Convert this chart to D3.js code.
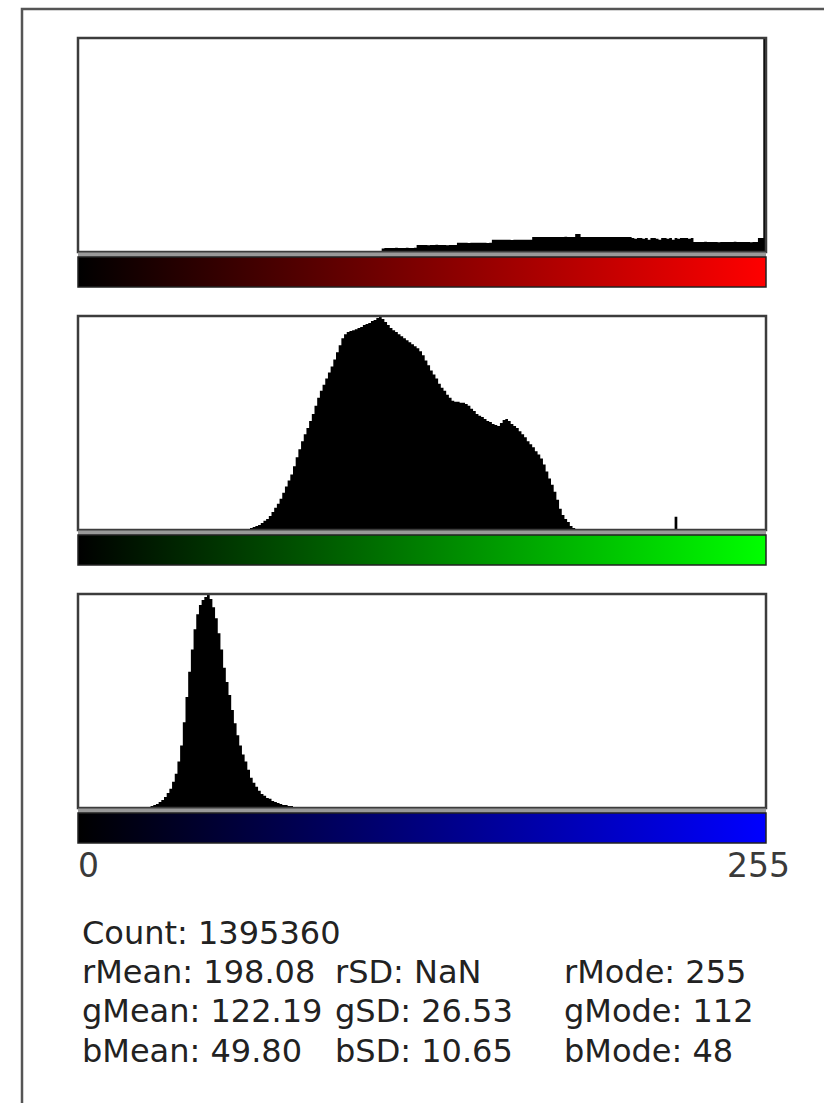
<!DOCTYPE html>
<html>
<head>
<meta charset="utf-8">
<script src="https://cdn.jsdelivr.net/npm/d3@7"></script>
<style>
  html, body { margin: 0; padding: 0; background: #fff; overflow: hidden; }
  text { font-family: "DejaVu Sans", "Lucida Grande", sans-serif; }
</style>
</head>
<body>
<svg id="chart" width="824" height="1103"></svg>
<script>
// Per-bin frequencies (percent of each channel's plotted maximum), bins 0..255
const redCounts = [
  0,0,0,0,0,0,0,0,0,0,0,0,0,0,0,0,
  0,0,0,0,0,0,0,0,0,0,0,0,0,0,0,0,
  0,0,0,0,0,0,0,0,0,0,0,0,0,0,0,0,
  0,0,0,0,0,0,0,0,0,0,0,0,0,0,0,0,
  0,0,0,0,0,0,0,0,0,0,0,0,0,0,0,0,
  0,0,0,0,0,0,0,0,0,0,0,0,0,0,0,0,
  0,0,0,0,0,0,0,0,0,0,0,0,0,0,0,0,
  0,1.7,1.9,1.9,1.9,1.9,2.0,1.9,1.9,1.9,2.0,1.9,1.9,2.0,3.3,3.3,
  3.3,3.3,3.2,3.3,3.3,3.4,3.3,3.3,3.3,3.2,3.3,3.3,3.3,4.3,4.3,4.3,
  4.3,4.2,4.3,4.3,4.4,4.3,4.3,4.3,4.2,4.3,5.7,5.7,5.8,5.7,5.7,5.7,
  5.7,5.6,5.7,5.7,5.7,5.8,5.7,5.7,5.7,7.0,7.1,7.1,7.1,7.0,7.1,7.1,
  7.1,7.1,7.0,7.1,7.1,7.2,7.1,7.1,7.1,8.5,8.5,7.1,7.1,7.0,7.1,7.1,
  7.1,7.1,7.1,7.0,7.1,7.1,7.1,7.1,7.0,7.1,7.1,7.1,7.1,7.0,6.6,6.2,
  6.6,6.6,6.2,6.6,5.7,6.6,6.6,6.2,5.7,6.6,6.6,6.2,6.6,5.7,6.6,6.2,
  6.6,6.6,6.6,6.2,6.6,4.7,4.7,4.7,4.7,4.8,4.7,4.7,4.7,4.7,4.6,4.7,
  4.7,4.7,4.7,4.7,4.8,4.7,4.7,4.7,4.7,4.7,4.6,4.7,4.7,6.6,6.6,100
];

const greenCounts = [
  0,0,0,0,0,0,0,0,0,0,0,0,0,0,0,0,
  0,0,0,0,0,0,0,0,0,0,0,0,0,0,0,0,
  0,0,0,0,0,0,0,0,0,0,0,0,0,0,0,0,
  0,0,0,0,0,0,0,0,0,0,0,0,0,0,0.2,0.5,
  0.9,1.4,1.9,2.4,3.3,4.3,5.2,6.6,8.5,10.4,12.3,14.7,17.5,20.4,23.2,26.1,
  29.9,34.1,37.9,41.7,45.0,47.9,51.2,54.5,58.3,62.1,65.4,68.2,71.1,73.9,76.8,80.1,
  83.4,86.7,90.0,91.9,92.9,93.4,93.8,94.3,94.8,95.3,96.2,96.7,97.2,98.1,98.6,99.5,
  100,99.1,97.6,96.2,94.8,93.8,92.9,91.9,91.0,90.0,89.1,88.2,87.2,86.3,85.3,83.9,
  82.0,79.6,77.3,74.9,73.0,71.1,68.7,66.8,65.4,63.5,62.1,60.7,60.2,60.2,59.7,59.7,
  59.2,58.3,56.9,55.9,54.5,53.6,53.1,52.1,51.2,50.7,49.8,49.3,48.8,50.2,51.7,52.1,
  51.2,49.8,48.8,47.9,46.4,45.0,43.6,41.7,40.3,38.9,37.0,35.5,33.6,30.8,27.5,24.2,
  21.3,18.0,14.2,10.0,7.1,5.2,3.8,1.9,0.9,0.5,0,0,0,0,0,0,
  0,0,0,0,0,0,0,0,0,0,0,0,0,0,0,0,
  0,0,0,0,0,0,0,0,0,0,0,0,0,0,6.2,0,
  0,0,0,0,0,0,0,0,0,0,0,0,0,0,0,0,
  0,0,0,0,0,0,0,0,0,0,0,0,0,0,0,0
];

const blueCounts = [
  0,0,0,0,0,0,0,0,0,0,0,0,0,0,0,0,
  0,0,0,0,0,0,0,0,0,0.2,0.5,0.9,1.4,1.9,2.8,3.8,
  5.2,7.1,9.0,12.3,16.1,21.8,29.4,40.3,52.1,64.0,74.4,83.9,91.0,95.3,97.6,99.1,
  100,98.1,94.3,89.1,82.0,74.4,65.9,59.2,53.1,46.0,39.8,34.1,29.4,25.1,21.8,18.0,
  14.2,11.8,10.0,8.1,6.6,5.7,4.7,4.3,3.3,2.8,2.4,1.9,1.4,1.4,0.9,0.9,
  0.5,0.5,0.2,0,0,0,0,0,0,0,0,0,0,0,0,0,
  0,0,0,0,0,0,0,0,0,0,0,0,0,0,0,0,
  0,0,0,0,0,0,0,0,0,0,0,0,0,0,0,0,
  0,0,0,0,0,0,0,0,0,0,0,0,0,0,0,0,
  0,0,0,0,0,0,0,0,0,0,0,0,0,0,0,0,
  0,0,0,0,0,0,0,0,0,0,0,0,0,0,0,0,
  0,0,0,0,0,0,0,0,0,0,0,0,0,0,0,0,
  0,0,0,0,0,0,0,0,0,0,0,0,0,0,0,0,
  0,0,0,0,0,0,0,0,0,0,0,0,0,0,0.5,0,
  0,0,0,0,0,0,0,0,0,0,0,0,0,0,0,0,
  0,0,0,0,0,0,0,0,0,0,0,0,0,0,0,0
];

const channelColors = ["#ff0000", "#00ff00", "#0000ff"];
const axisTicks = [0, 255];

// Summary statistics
const pixelCount = 1395360;
const channelPrefixes = ["r", "g", "b"];
const channelMeans = [198.08, 122.19, 49.80];
const channelSDs = [NaN, 26.53, 10.65];
const channelModes = [255, 112, 48];

const svg = d3.select("#chart");

// outer window frame
svg.append("rect")
  .attr("x", 22).attr("y", 9)
  .attr("width", 900).attr("height", 1200)
  .attr("fill", "none")
  .attr("stroke", "#555")
  .attr("stroke-width", 2.5);

const left = 78, right = 766;
const plotH = 214, bandH = 5, barH = 30, pitch = 278, firstTop = 38;

const x = d3.scaleLinear().domain([0, 256]).range([left, right]);

const defs = svg.append("defs");

[redCounts, greenCounts, blueCounts].forEach((counts, ci) => {
  const top = firstTop + ci * pitch;
  const base = top + plotH;
  const y = d3.scaleLinear().domain([0, d3.max(counts)]).range([base, top + 1]);

  const g = svg.append("g");

  // histogram as a stepped filled area
  const pts = counts.map((v, i) => [i, v]);
  pts.push([256, counts[255]]);
  const area = d3.area()
    .x(d => x(d[0]))
    .y0(base)
    .y1(d => y(d[1]))
    .curve(d3.curveStepAfter);
  g.append("path")
    .attr("d", area(pts))
    .attr("fill", "#000");

  // plot frame
  g.append("rect")
    .attr("x", left).attr("y", top)
    .attr("width", right - left).attr("height", plotH)
    .attr("fill", "none")
    .attr("stroke", "#3c3c3c")
    .attr("stroke-width", 2.5);

  // grey strip under the histogram
  g.append("rect")
    .attr("x", left).attr("y", base + 0.5)
    .attr("width", right - left).attr("height", bandH - 0.5)
    .attr("fill", "#9a9a9a");

  // channel colour ramp
  const gid = "ramp" + ci;
  const grad = defs.append("linearGradient").attr("id", gid)
    .attr("x1", "0%").attr("x2", "100%").attr("y1", "0%").attr("y2", "0%");
  grad.append("stop").attr("offset", "0%").attr("stop-color", "#000");
  grad.append("stop").attr("offset", "100%").attr("stop-color", channelColors[ci]);

  g.append("rect")
    .attr("x", left).attr("y", base + bandH)
    .attr("width", right - left).attr("height", barH)
    .attr("fill", `url(#${gid})`)
    .attr("stroke", "#222")
    .attr("stroke-width", 1.5);
});

// value range labels under the last ramp
const tickY = 877;
svg.append("text")
  .attr("x", x(axisTicks[0]))
  .attr("y", tickY)
  .attr("font-size", 33)
  .attr("fill", "#3a3a3a")
  .attr("text-anchor", "start")
  .text(axisTicks[0]);
svg.append("text")
  .attr("x", 790)
  .attr("y", tickY)
  .attr("font-size", 33)
  .attr("fill", "#3a3a3a")
  .attr("text-anchor", "end")
  .text(axisTicks[1]);

// statistics block
const statFont = 32;
const colX = [82, 335, 564];
const rowY = [944, 983, 1022, 1062];

const stats = svg.append("g")
  .attr("font-size", statFont)
  .attr("fill", "#222");

stats.append("text")
  .attr("x", colX[0]).attr("y", rowY[0])
  .text("Count: " + pixelCount);

channelPrefixes.forEach((p, i) => {
  stats.append("text").attr("x", colX[0]).attr("y", rowY[i + 1])
    .text(`${p}Mean: ${channelMeans[i].toFixed(2)}`);
  stats.append("text").attr("x", colX[1]).attr("y", rowY[i + 1])
    .text(`${p}SD: ${isNaN(channelSDs[i]) ? "NaN" : channelSDs[i].toFixed(2)}`);
  stats.append("text").attr("x", colX[2]).attr("y", rowY[i + 1])
    .text(`${p}Mode: ${channelModes[i]}`);
});
</script>
</body>
</html>
